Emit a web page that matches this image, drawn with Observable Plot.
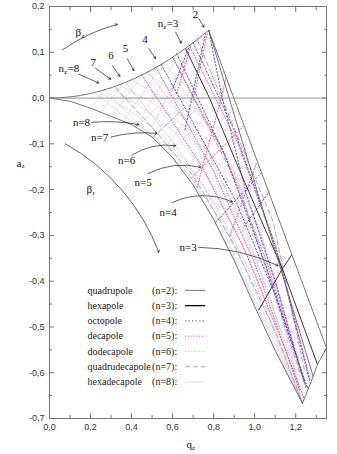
<!DOCTYPE html>
<html><head><meta charset="utf-8">
<script src="https://cdn.jsdelivr.net/npm/d3@7"></script>
<script src="https://cdn.jsdelivr.net/npm/@observablehq/plot@0.6"></script>
<style>body{margin:0;background:#fff}#chart{width:337px;height:454px}</style>
</head><body><div id="chart"></div>
<script>
// ---- tick values ----
const xMajor = [0, 0.2, 0.4, 0.6, 0.8, 1.0, 1.2];
const xMinor = [0.1, 0.3, 0.5, 0.7, 0.9, 1.1, 1.3];
const yMajor = [0.2, 0.1, 0, -0.1, -0.2, -0.3, -0.4, -0.5, -0.6, -0.7];
const yMinor = [0.15, 0.05, -0.05, -0.15, -0.25, -0.35, -0.45, -0.55, -0.65];

// ---- quadrupole boundaries (q_z, a_z) ----
const upperBoundary = [[0,0],[0.05,0.0006],[0.1,0.0025],[0.15,0.0056],[0.2,0.0100],[0.25,0.0156],[0.3,0.0225],[0.35,0.0306],[0.4,0.0398],[0.45,0.0503],[0.5,0.0621],[0.55,0.0751],[0.6,0.0891],[0.65,0.1043],[0.7,0.1209],[0.75,0.1386],[0.776,0.148]];
const lowerBoundary = [[0,0],[0.1,-0.007],[0.2,-0.022],[0.3,-0.040],[0.4,-0.058],[0.5,-0.085],[0.6,-0.130],[0.7,-0.190],[0.8,-0.265],[0.9,-0.355],[1.0,-0.455],[1.1,-0.552],[1.233,-0.667]];

// ---- lines per multipole order ----
const quadrupoleLines = [
  [[0.776,0.148],[1.35,-0.546]],
  [[0.776,0.148],[1.285,-0.608]],
  [[1.233,-0.667],[1.285,-0.608],[1.306,-0.582],[1.35,-0.546]]
];
const hexapoleLines = [
  [[0.663,0.108],[0.78,0.0],[0.90,-0.13],[1.02,-0.255],[1.135,-0.373],[1.306,-0.582]],
  [[1.02,-0.463],[1.135,-0.373],[1.18,-0.343]]
];
const octopoleLines = [
  [[0.545,0.073],[0.907,-0.224],[1.10,-0.43],[1.26,-0.636]],
  [[0.81,-0.272],[0.907,-0.224],[1.033,-0.163]],
  [[0.776,0.148],[0.842,0.0],[0.96,-0.21],[1.10,-0.40],[1.24,-0.62]],
  [[0.62,0.097],[0.85,-0.12],[1.05,-0.36],[1.25,-0.63]],
  [[0.70,0.121],[0.90,-0.07],[1.10,-0.32],[1.27,-0.622]],
  [[0.60,0.02],[0.68,0.112]],
  [[0.66,-0.07],[0.76,0.14]],
  [[0.95,-0.28],[1.07,-0.205]]
];
const decapoleLines = [
  [[0.45,0.050],[0.745,-0.151],[0.95,-0.33],[1.15,-0.55],[1.24,-0.655]],
  [[0.68,-0.18],[0.745,-0.151],[0.948,-0.06]],
  [[0.72,-0.195],[0.745,-0.151],[0.834,-0.005],[0.86,0.045]],
  [[0.52,0.066],[0.80,-0.16],[1.0,-0.36],[1.22,-0.64]],
  [[0.60,0.089],[0.86,-0.13],[1.06,-0.36],[1.25,-0.63]],
  [[0.68,0.116],[0.92,-0.10],[1.12,-0.35],[1.27,-0.615]],
  [[0.62,0.01],[0.69,0.117]],
  [[0.70,-0.005],[0.769,0.142]],
  [[0.88,-0.30],[1.01,-0.14]]
];
const dodecapoleLines = [
  [[0.375,0.031],[0.615,-0.104],[0.8,-0.225],[1.0,-0.40],[1.233,-0.667]],
  [[0.58,-0.12],[0.615,-0.104],[0.78,-0.035]],
  [[0.48,0.057],[0.75,-0.10],[0.95,-0.28],[1.2,-0.60]],
  [[0.56,0.078],[0.82,-0.09],[1.02,-0.28],[1.22,-0.58]]
];
const quadrudecapoleLines = [
  [[0.32,0.024],[0.525,-0.077],[0.7,-0.17],[0.9,-0.32],[1.1,-0.51],[1.233,-0.667]],
  [[0.50,-0.087],[0.525,-0.077],[0.66,-0.02]],
  [[0.72,0.128],[1.09,-0.27],[1.245,-0.60]],
  [[0.60,0.089],[0.93,-0.20],[1.22,-0.60]]
];
const hexadecapoleLines = [
  [[0.27,0.018],[0.436,-0.058],[0.6,-0.118],[0.8,-0.245],[1.0,-0.44],[1.233,-0.667]],
  [[0.42,-0.064],[0.436,-0.058],[0.55,-0.01]],
  [[0.22,0.012],[0.35,-0.035],[0.5,-0.08],[0.7,-0.18],[0.9,-0.35],[1.1,-0.545],[1.233,-0.667]],
  [[0.24,0.014],[0.4,-0.03],[0.55,-0.08],[0.75,-0.19],[0.95,-0.37],[1.233,-0.667]],
  [[0.30,0.022],[0.45,-0.02],[0.6,-0.07],[0.8,-0.19],[1.0,-0.38],[1.233,-0.667]],
  [[0.34,0.029],[0.5,-0.01],[0.65,-0.06],[0.85,-0.19],[1.05,-0.40],[1.233,-0.667]],
  [[0.40,0.040],[0.55,0.0],[0.7,-0.06],[0.9,-0.20],[1.1,-0.42],[1.233,-0.667]],
  [[0.47,0.055],[0.62,0.01],[0.78,-0.06],[0.95,-0.20],[1.12,-0.43],[1.233,-0.667]],
  [[0.20,-0.022],[0.274,0.019]],
  [[0.25,-0.031],[0.36,0.032]],
  [[0.30,-0.040],[0.46,0.053]],
  [[0.36,-0.050],[0.56,0.078]],
  [[0.42,-0.062],[0.64,0.10]],
  [[0.48,-0.078],[0.72,0.128]],
  [[0.56,-0.11],[0.85,0.058]],
  [[0.65,-0.16],[0.92,-0.02]],
  [[0.75,-0.235],[1.0,-0.12]],
  [[0.85,-0.32],[1.1,-0.24]],
  [[0.95,-0.41],[1.2,-0.365]],
  [[1.05,-0.505],[1.27,-0.45]]
];

// ---- annotations ----
const arrows = [
  {x1:0.062,y1:0.105,x2:0.330,y2:0.161,bend:10},
  {x1:0.078,y1:-0.100,x2:0.533,y2:-0.337,bend:20},
  {x1:0.143,y1:0.052,x2:0.240,y2:0.033,bend:0},
  {x1:0.224,y1:0.065,x2:0.298,y2:0.041,bend:0},
  {x1:0.306,y1:0.071,x2:0.343,y2:0.047,bend:0},
  {x1:0.379,y1:0.086,x2:0.411,y2:0.060,bend:0},
  {x1:0.484,y1:0.108,x2:0.517,y2:0.086,bend:0},
  {x1:0.615,y1:0.144,x2:0.642,y2:0.120,bend:0},
  {x1:0.728,y1:0.173,x2:0.753,y2:0.155,bend:0},
  {x1:0.205,y1:-0.053,x2:0.436,y2:-0.058,bend:8},
  {x1:0.300,y1:-0.085,x2:0.525,y2:-0.077,bend:10},
  {x1:0.400,y1:-0.125,x2:0.615,y2:-0.104,bend:20},
  {x1:0.480,y1:-0.165,x2:0.737,y2:-0.151,bend:20},
  {x1:0.600,y1:-0.228,x2:0.891,y2:-0.227,bend:25},
  {x1:0.727,y1:-0.326,x2:1.114,y2:-0.366,bend:12}
];
const plainLabels = [
  {x:0.213,y:0.078,text:"7"},{x:0.300,y:0.093,text:"6"},{x:0.371,y:0.108,text:"5"},
  {x:0.465,y:0.127,text:"4"},{x:0.712,y:0.183,text:"2"},
  {x:0.156,y:-0.053,text:"n=8"},{x:0.244,y:-0.086,text:"n=7"},{x:0.376,y:-0.137,text:"n=6"},
  {x:0.456,y:-0.185,text:"n=5"},{x:0.578,y:-0.249,text:"n=4"},{x:0.676,y:-0.326,text:"n=3"}
];
const subLabels = [
  {x:0.044,y:0.0647,main:"n",sub:"z",rest:"=8",w:5.5},
  {x:0.527,y:0.163,main:"n",sub:"z",rest:"=3",w:5.5},
  {x:0.127,y:0.143,main:"β",sub:"z",rest:"",w:6},
  {x:0.180,y:-0.200,main:"β",sub:"r",rest:"",w:6},
  {x:-0.161,y:-0.142,main:"a",sub:"z",rest:"",w:5},
  {x:0.668,y:-0.757,main:"q",sub:"z",rest:"",w:5.5}
];
const legendNames = ["quadrupole","hexapole","octopole","decapole","dodecapole","quadrudecapole","hexadecapole"];
const legendOrders = [2,3,4,5,6,7,8];

// ---- styles ----
const styles = {
  2:{stroke:"#555",strokeWidth:0.8},
  3:{stroke:"#222",strokeWidth:0.9},
  4:{stroke:"#4444c4",strokeWidth:0.9,strokeDasharray:"1.5,2"},
  5:{stroke:"#f0349a",strokeWidth:0.9,strokeDasharray:"1,1.8"},
  6:{stroke:"#dba2c4",strokeWidth:0.8,strokeDasharray:"1,1.8"},
  7:{stroke:"#888",strokeWidth:0.7,strokeDasharray:"5,3"},
  8:{stroke:"#c6c6c6",strokeWidth:0.5}
};
const legendStyles = {...styles, 3:{stroke:"#000",strokeWidth:1.3}};
const serif = "Liberation Serif, DejaVu Serif, serif";
const fmt = d => (d < 0 ? "-" : "") + Math.abs(d).toFixed(1).replace(".", ",");
const rows = (lines, key) => lines.flatMap((pts, i) => pts.map(([x, y]) => ({x, y, id: key + "-" + i})));
const lineMark = (lines, n) => Plot.line(rows(lines, n), {x:"x", y:"y", z:"id", ...styles[n]});

const legendRows = legendNames.map((name, i) => ({name, tag:`(n=${legendOrders[i]}):`, n:legendOrders[i], y:-0.420 - i*0.0334}));
const blank = () => "";

const chart = Plot.plot({
  width:337, height:454, marginLeft:49, marginRight:11, marginTop:6, marginBottom:36,
  x:{domain:[0,1.35], label:null},
  y:{domain:[-0.7,0.2], label:null},
  style:{fontFamily:"Liberation Sans, Arial, sans-serif", fontSize:"9px", background:"#fff", color:"#333"},
  marks:[
    lineMark(hexadecapoleLines, 8),
    lineMark(quadrudecapoleLines, 7),
    lineMark(dodecapoleLines, 6),
    lineMark(decapoleLines, 5),
    lineMark(octopoleLines, 4),
    lineMark(hexapoleLines, 3),
    lineMark(quadrupoleLines, 2),
    Plot.line(upperBoundary, {x:d=>d[0], y:d=>d[1], ...styles[2]}),
    Plot.line(lowerBoundary, {x:d=>d[0], y:d=>d[1], ...styles[2]}),
    Plot.ruleY([0], {stroke:"#888", strokeWidth:0.9}),
    Plot.frame({stroke:"#777"}),
    Plot.axisX(xMajor, {anchor:"bottom", tickSize:0, tickPadding:5, tickFormat:fmt, label:null}),
    Plot.axisX(xMajor, {anchor:"bottom", tickSize:-5, tickFormat:blank, label:null, stroke:"#777"}),
    Plot.axisX(xMinor, {anchor:"bottom", tickSize:-3, tickFormat:blank, label:null, stroke:"#777"}),
    Plot.axisX(xMajor, {anchor:"top", tickSize:-5, tickFormat:blank, label:null, stroke:"#777"}),
    Plot.axisX(xMinor, {anchor:"top", tickSize:-3, tickFormat:blank, label:null, stroke:"#777"}),
    Plot.axisY(yMajor, {anchor:"left", tickSize:0, tickPadding:5, tickFormat:fmt, label:null}),
    Plot.axisY(yMajor, {anchor:"left", tickSize:-5, tickFormat:blank, label:null, stroke:"#777"}),
    Plot.axisY(yMinor, {anchor:"left", tickSize:-3, tickFormat:blank, label:null, stroke:"#777"}),
    Plot.axisY(yMajor, {anchor:"right", tickSize:-5, tickFormat:blank, label:null, stroke:"#777"}),
    Plot.axisY(yMinor, {anchor:"right", tickSize:-3, tickFormat:blank, label:null, stroke:"#777"}),
    ...arrows.map(a => Plot.arrow([a], {x1:"x1", y1:"y1", x2:"x2", y2:"y2", bend:a.bend, stroke:"#222", strokeWidth:0.7, headLength:5})),
    Plot.text(plainLabels, {x:"x", y:"y", text:"text", fontFamily:serif, fontSize:11, fill:"#111"}),
    Plot.text(subLabels, {x:"x", y:"y", text:"main", textAnchor:"start", fontFamily:serif, fontSize:11, fill:"#111"}),
    ...subLabels.map(s => Plot.text([s], {x:"x", y:"y", text:"sub", textAnchor:"start", dx:s.w, dy:3, fontFamily:serif, fontSize:7, fill:"#111"})),
    ...subLabels.map(s => Plot.text([s], {x:"x", y:"y", text:"rest", textAnchor:"start", dx:s.w+3.5, fontFamily:serif, fontSize:11, fill:"#111"})),
    Plot.text(legendRows, {x:()=>0.185, y:"y", text:"name", textAnchor:"start", fontFamily:serif, fontSize:10, fill:"#222"}),
    Plot.text(legendRows, {x:()=>0.500, y:"y", text:"tag", textAnchor:"start", fontFamily:serif, fontSize:10, fill:"#222"}),
    ...legendRows.map(r => Plot.ruleY([r.y], {x1:0.663, x2:0.761, ...legendStyles[r.n]}))
  ]
});
document.getElementById("chart").appendChild(chart);
</script>
</body></html>
